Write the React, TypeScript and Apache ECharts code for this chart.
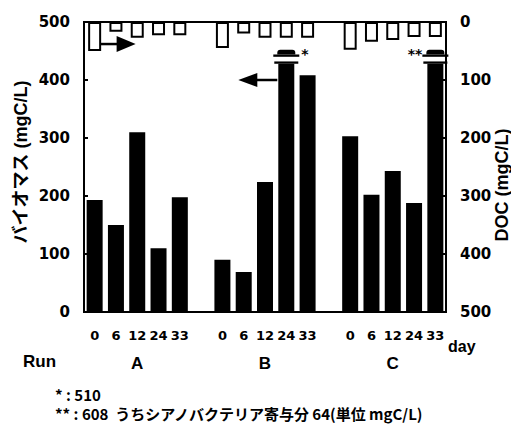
import React, { useEffect, useRef } from 'react';
import * as echarts from 'echarts';

// ---- data ----
const days = ['0', '6', '12', '24', '33'];
const runs = ['A', 'B', 'C'];
const biomassA = [193, 150, 310, 110, 198];
const biomassB = [90, 69, 224, 510, 408];
const biomassC = [303, 202, 243, 188, 608];
const docA = [50, 17, 27, 23, 23];
const docB = [45, 20, 27, 27, 27];
const docC = [48, 34, 31, 26, 26];
const cyanoContribution = 64;
const axisMin = 0;
const axisMax = 500;
const axisStep = 100;

// ---- derived tables ----
const biomassRuns = [biomassA, biomassB, biomassC];
const docRuns = [docA, docB, docC];
const categories: string[] = [];
const biomass: (number | null)[] = [];
const doc: (number | null)[] = [];
const runCenters: number[] = [];
runs.forEach((r, ri) => {
  if (ri > 0) {
    categories.push('');
    biomass.push(null);
    doc.push(null);
  }
  const start = categories.length;
  days.forEach((d, di) => {
    categories.push(d);
    biomass.push(biomassRuns[ri][di]);
    doc.push(docRuns[ri][di]);
  });
  runCenters.push(start + Math.floor(days.length / 2));
});

const BODY_TOP = 428; // drawn height of a broken bar
const BAR_W = 16;
const DOC_W = 13;
const marks = ['*', '**'];
const breakData: [number, number][] = [];
biomass.forEach((v, i) => {
  if (v != null && v > axisMax) breakData.push([i, v]);
});
const biomassShown = biomass.map((v) => (v == null ? null : v > axisMax ? BODY_TOP : v));

const FONT_NUM = "'DejaVu Sans'";
const FONT_TXT = "'Liberation Sans', Arial, 'Noto Sans CJK JP'";
const FONT_JP = "'Noto Sans CJK JP', 'Liberation Sans'";

export default function App() {
  const ref = useRef<HTMLDivElement>(null);
  useEffect(() => {
    if (!ref.current) return;
    const chart = echarts.init(ref.current, undefined, { renderer: 'svg' });
    const option: any = {
      animation: false,
      backgroundColor: '#fff',
      grid: { left: 84, right: 65, top: 22, bottom: 112, show: true, borderColor: '#000', borderWidth: 2 },
      xAxis: [
        {
          type: 'category',
          data: categories,
          axisLine: { lineStyle: { color: '#000', width: 2 } },
          axisTick: { show: false },
          axisLabel: { interval: 0, color: '#000', fontFamily: 'DejaVu Sans', fontWeight: 'bold', fontSize: 13, margin: 17 },
        },
        { type: 'category', data: categories, show: false },
      ],
      yAxis: [
        {
          type: 'value', min: axisMin, max: axisMax, interval: axisStep, position: 'left',
          axisLine: { show: true, lineStyle: { color: '#000', width: 2 } },
          axisTick: { show: true, inside: true, length: 4, lineStyle: { color: '#000', width: 2 } },
          axisLabel: { color: '#000', fontFamily: 'DejaVu Sans', fontWeight: 'bold', fontSize: 15, margin: 14 },
          splitLine: { show: false },
        },
        {
          type: 'value', min: axisMin, max: axisMax, interval: axisStep, position: 'right', inverse: true,
          axisLine: { show: true, lineStyle: { color: '#000', width: 2 } },
          axisTick: { show: true, inside: true, length: 4, lineStyle: { color: '#000', width: 2 } },
          axisLabel: { color: '#000', fontFamily: 'DejaVu Sans', fontWeight: 'bold', fontSize: 15, margin: 14 },
          splitLine: { show: false },
        },
      ],
      series: [
        {
          name: 'バイオマス', type: 'bar', xAxisIndex: 0, yAxisIndex: 0, barWidth: BAR_W,
          data: biomassShown, itemStyle: { color: '#000' },
        },
        {
          name: 'DOC', type: 'bar', xAxisIndex: 1, yAxisIndex: 1, barWidth: DOC_W,
          data: doc, itemStyle: { color: '#fff', borderColor: '#000', borderWidth: 2 },
        },
        {
          name: 'break', type: 'custom', xAxisIndex: 0, yAxisIndex: 0, data: breakData, clip: false,
          renderItem: (params: any, api: any) => {
            const idx = api.value(0);
            const cx = api.coord([idx, 0])[0];
            const y = (v: number) => api.coord([idx, v])[1];
            const mark = marks[params.dataIndex] || '*';
            const last = idx === categories.length - 1;
            return {
              type: 'group',
              children: [
                { type: 'rect', shape: { x: cx - BAR_W / 2 - 4, y: y(BODY_TOP + 4), width: BAR_W + 8, height: y(BODY_TOP) - y(BODY_TOP + 4) }, style: { fill: '#000' } },
                { type: 'rect', shape: { x: cx - BAR_W / 2 - 5, y: y(BODY_TOP + 16), width: BAR_W + 10, height: y(BODY_TOP + 12) - y(BODY_TOP + 16) }, style: { fill: '#000' } },
                { type: 'rect', shape: { x: cx - BAR_W / 2 - 1, y: y(BODY_TOP + 24), width: BAR_W + 2, height: y(BODY_TOP + 16) - y(BODY_TOP + 24), r: [3, 3, 0, 0] }, style: { fill: '#000' } },
                {
                  type: 'text', x: last ? cx - BAR_W / 2 - 5 : cx + BAR_W / 2 + 7, y: y(BODY_TOP + 16),
                  style: { text: mark, fill: '#000', font: `bold 14px ${FONT_NUM}`, align: last ? 'right' : 'left', verticalAlign: 'middle' },
                },
              ],
            };
          },
        },
      ],
    };
    chart.setOption(option);

    const px = (c: number, v: number) => chart.convertToPixel({ xAxisIndex: 0, yAxisIndex: 0 }, [c, v]) as number[];
    const a1 = px(0, 462);
    const bIdx = breakData.length ? breakData[0][0] : 9;
    const a2 = px(bIdx, 400);
    const a2x = a2[0] - BAR_W / 2 - 1;
    const graphic: any[] = [
      { type: 'line', shape: { x1: a1[0] - 2, y1: a1[1], x2: a1[0] + 24, y2: a1[1] }, style: { stroke: '#000', lineWidth: 2.5 } },
      { type: 'polygon', shape: { points: [[a1[0] + 22, a1[1] - 8], [a1[0] + 41, a1[1]], [a1[0] + 22, a1[1] + 8]] }, style: { fill: '#000' } },
      { type: 'line', shape: { x1: a2x, y1: a2[1], x2: a2x - 22, y2: a2[1] }, style: { stroke: '#000', lineWidth: 2.5 } },
      { type: 'polygon', shape: { points: [[a2x - 20, a2[1] - 7], [a2x - 39, a2[1]], [a2x - 20, a2[1] + 7]] }, style: { fill: '#000' } },
      {
        type: 'text', x: 21, y: 162, rotation: Math.PI / 2,
        style: { text: 'バイオマス (mgC/L)', fill: '#000', font: `bold 18px ${FONT_TXT}`, align: 'center', verticalAlign: 'middle' },
      },
      {
        type: 'text', x: 502, y: 185, rotation: Math.PI / 2,
        style: { text: 'DOC (mgC/L)', fill: '#000', font: `bold 18px ${FONT_TXT}`, align: 'center', verticalAlign: 'middle' },
      },
      { type: 'text', x: 448, y: 346, style: { text: 'day', fill: '#000', font: `bold 16px ${FONT_TXT}`, verticalAlign: 'middle' } },
      { type: 'text', x: 23, y: 361, style: { text: 'Run', fill: '#000', font: `bold 17px ${FONT_TXT}`, verticalAlign: 'middle' } },
      ...runs.map((r, i) => {
        const p = px(runCenters[i], 0);
        return { type: 'text', x: p[0], y: 363, style: { text: r, fill: '#000', font: `bold 17px ${FONT_TXT}`, align: 'center', verticalAlign: 'middle' } };
      }),
      ...breakData.map((d, i) => ({
        type: 'text', x: 55, y: 394 + i * 19,
        style: {
          text: i === 0 ? `${marks[i]} : ${d[1]}` : `${marks[i]} : ${d[1]}  うちシアノバクテリア寄与分 ${cyanoContribution}(単位 mgC/L)`,
          fill: '#000', font: `bold 15px ${FONT_JP}`, lineHeight: 16, verticalAlign: 'middle',
        },
      })),
    ];
    chart.setOption({ graphic });
    return () => chart.dispose();
  }, []);
  return <div ref={ref} style={{ position: 'fixed', left: 0, top: 0, width: 511, height: 424, background: '#fff' }} />;
}
